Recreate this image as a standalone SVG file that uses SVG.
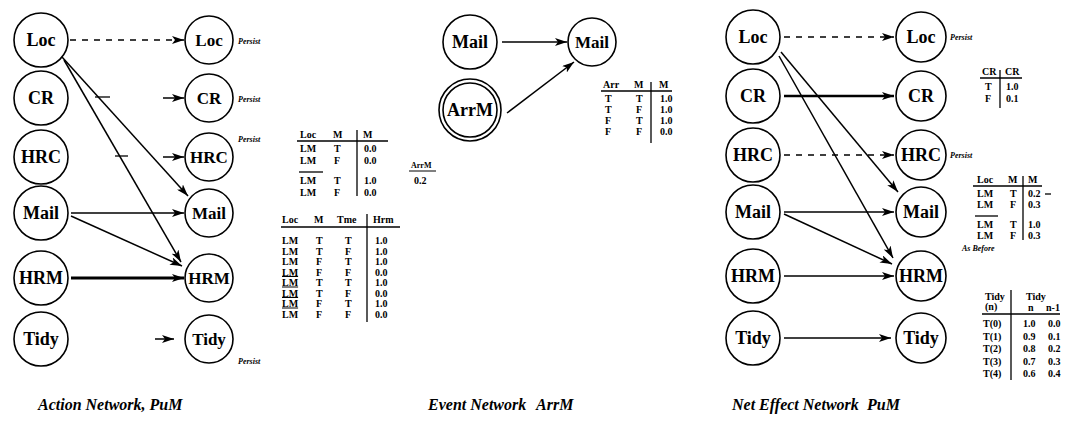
<svg xmlns="http://www.w3.org/2000/svg" width="1074" height="423" viewBox="0 0 1074 423">
<style>
.node circle{fill:#fff;stroke:#000;stroke-width:1.6}
.lbl{font-family:"Liberation Serif",serif;font-weight:bold;font-size:18px;text-anchor:middle;dominant-baseline:central}
.sm{font-size:17px}
.tb{font-family:"Liberation Serif",serif;font-weight:bold;font-size:10px}
.per{font-family:"Liberation Serif",serif;font-weight:bold;font-style:italic;font-size:8px}
.cap{font-family:"Liberation Serif",serif;font-weight:bold;font-style:italic;font-size:16px}
.edge{stroke:#000;stroke-width:1.5;fill:none;marker-end:url(#ah)}
.dash{stroke-dasharray:6 6}
.thick{stroke-width:3}
.rule{stroke:#000;stroke-width:1.3;fill:none}
</style>
<defs>
<marker id="ah" viewBox="0 0 12 8" refX="12" refY="4" markerWidth="12" markerHeight="8" markerUnits="userSpaceOnUse" orient="auto"><path d="M0,0 L12,4 L0,8 L3,4 z" fill="#000"/></marker>
</defs>
<rect width="1074" height="423" fill="#fff"/>

<!-- connectors -->
<g id="connectors">
  <!-- action network -->
  <line class="edge dash" x1="70" y1="40" x2="184" y2="40"/>
  <line class="edge" x1="163" y1="98" x2="184" y2="98"/>
  <line class="edge" x1="163" y1="157" x2="184" y2="157"/>
  <line class="edge" x1="155" y1="339" x2="174" y2="339"/>
  <line class="edge" x1="62" y1="57" x2="188" y2="196"/>
  <line class="edge" x1="64" y1="60" x2="181" y2="262"/>
  <line class="edge" x1="71" y1="213" x2="184" y2="213"/>
  <line class="edge" x1="71" y1="216" x2="182" y2="266"/>
  <line class="edge thick" x1="71" y1="278" x2="184" y2="278"/>
  <line class="rule" x1="95" y1="97" x2="110" y2="97"/>
  <line class="rule" x1="115" y1="156" x2="128" y2="156"/>
  <!-- event network -->
  <line class="edge" x1="502" y1="42" x2="567" y2="42"/>
  <line class="edge" x1="507" y1="113" x2="574" y2="62"/>
  <!-- net effect network -->
  <line class="edge dash" x1="784" y1="37" x2="894" y2="37"/>
  <line class="edge" x1="784" y1="96" x2="894" y2="96" style="stroke-width:2.5"/>
  <line class="edge dash" x1="784" y1="155" x2="894" y2="155"/>
  <line class="edge" x1="781" y1="52" x2="898" y2="192"/>
  <line class="edge" x1="779" y1="56" x2="893" y2="258"/>
  <line class="edge" x1="784" y1="212" x2="894" y2="212"/>
  <line class="edge" x1="784" y1="214" x2="892" y2="264"/>
  <line class="edge" x1="784" y1="276" x2="894" y2="276"/>
  <line class="edge" x1="784" y1="338" x2="891" y2="338"/>
</g>

<!-- Action network nodes -->
<g id="a-loc" class="node"><circle cx="41" cy="40" r="27"/><text class="lbl" x="41" y="40">Loc</text></g>
<g id="a-cr" class="node"><circle cx="41" cy="98" r="27"/><text class="lbl" x="41" y="98">CR</text></g>
<g id="a-hrc" class="node"><circle cx="41" cy="157" r="27"/><text class="lbl" x="41" y="157">HRC</text></g>
<g id="a-mail" class="node"><circle cx="41" cy="213" r="27"/><text class="lbl" x="41" y="213">Mail</text></g>
<g id="a-hrm" class="node"><circle cx="41" cy="278" r="27"/><text class="lbl" x="41" y="278">HRM</text></g>
<g id="a-tidy" class="node"><circle cx="41" cy="339" r="27"/><text class="lbl" x="41" y="339">Tidy</text></g>
<g id="a-loc2" class="node"><circle cx="209" cy="40" r="24"/><text class="lbl sm" x="209" y="40">Loc</text></g>
<g id="a-cr2" class="node"><circle cx="209" cy="98" r="24"/><text class="lbl sm" x="209" y="98">CR</text></g>
<g id="a-hrc2" class="node"><circle cx="209" cy="157" r="24"/><text class="lbl sm" x="209" y="157">HRC</text></g>
<g id="a-mail2" class="node"><circle cx="209" cy="213" r="24"/><text class="lbl sm" x="209" y="213">Mail</text></g>
<g id="a-hrm2" class="node"><circle cx="209" cy="278" r="24"/><text class="lbl sm" x="209" y="278">HRM</text></g>
<g id="a-tidy2" class="node"><circle cx="209" cy="339" r="24"/><text class="lbl sm" x="209" y="339">Tidy</text></g>
<g id="a-persist" class="per">
  <text x="238" y="44">Persist</text>
  <text x="238" y="102">Persist</text>
  <text x="238" y="142">Persist</text>
  <text x="238" y="364">Persist</text>
</g>

<!-- Action tables -->
<g id="a-table1" class="tb">
  <text x="300" y="138">Loc</text><text x="333" y="138">M</text><text x="363" y="138">M</text>
  <line class="rule" x1="297" y1="141" x2="388" y2="141"/>
  <line class="rule" x1="357" y1="130" x2="357" y2="196"/>
  <text x="300" y="152">LM</text><text x="334" y="152">T</text><text x="364" y="152">0.0</text>
  <text x="300" y="164">LM</text><text x="334" y="164">F</text><text x="364" y="164">0.0</text>
  <line class="rule" x1="299" y1="172" x2="323" y2="172"/>
  <text x="300" y="184">LM</text><text x="334" y="184">T</text><text x="364" y="184">1.0</text>
  <text x="300" y="196">LM</text><text x="334" y="196">F</text><text x="364" y="196">0.0</text>
</g>
<g id="a-arrm" class="tb">
  <text x="411" y="168" style="font-size:8px">ArrM</text>
  <line class="rule" x1="409" y1="171" x2="436" y2="171" style="stroke-width:1"/>
  <text x="414" y="184">0.2</text>
</g>
<g id="a-table2" class="tb">
  <text x="282" y="223">Loc</text><text x="314" y="223">M</text><text x="337" y="223">Tme</text><text x="373" y="223">Hrm</text>
  <line class="rule" x1="281" y1="227" x2="400" y2="227"/>
  <line class="rule" x1="367" y1="214" x2="367" y2="322"/>
  <text x="282" y="244">LM</text><text x="316" y="244">T</text><text x="345" y="244">T</text><text x="375" y="244">1.0</text>
  <text x="282" y="254.5">LM</text><text x="316" y="254.5">T</text><text x="345" y="254.5">F</text><text x="375" y="254.5">1.0</text>
  <text x="282" y="265">LM</text><text x="316" y="265">F</text><text x="345" y="265">T</text><text x="375" y="265">1.0</text>
  <text x="282" y="275.5">LM</text><text x="316" y="275.5">F</text><text x="345" y="275.5">F</text><text x="375" y="275.5">0.0</text>
  <text x="282" y="286" text-decoration="overline">LM</text><text x="316" y="286">T</text><text x="345" y="286">T</text><text x="375" y="286">1.0</text>
  <text x="282" y="296.5" text-decoration="overline">LM</text><text x="316" y="296.5">T</text><text x="345" y="296.5">F</text><text x="375" y="296.5">0.0</text>
  <text x="282" y="307" text-decoration="overline">LM</text><text x="316" y="307">F</text><text x="345" y="307">T</text><text x="375" y="307">1.0</text>
  <text x="282" y="317.5" text-decoration="overline">LM</text><text x="316" y="317.5">F</text><text x="345" y="317.5">F</text><text x="375" y="317.5">0.0</text>
</g>

<!-- Event network -->
<g id="e-mail" class="node"><circle cx="470" cy="42" r="27"/><text class="lbl" x="470" y="42">Mail</text></g>
<g id="e-arrm" class="node"><circle cx="470" cy="110" r="31"/><circle cx="470" cy="110" r="27"/><text class="lbl" x="470" y="110">ArrM</text></g>
<g id="e-mail2" class="node"><circle cx="592" cy="42" r="24"/><text class="lbl sm" x="592" y="42">Mail</text></g>
<g id="e-table" class="tb">
  <text x="603" y="88">Arr</text><text x="634" y="88">M</text><text x="659" y="88">M</text>
  <line class="rule" x1="601" y1="91" x2="672" y2="91"/>
  <line class="rule" x1="651" y1="82" x2="651" y2="143"/>
  <text x="605" y="102">T</text><text x="636" y="102">T</text><text x="660" y="102">1.0</text>
  <text x="605" y="113">T</text><text x="636" y="113">F</text><text x="660" y="113">1.0</text>
  <text x="605" y="124">F</text><text x="636" y="124">T</text><text x="660" y="124">1.0</text>
  <text x="605" y="135">F</text><text x="636" y="135">F</text><text x="660" y="135">0.0</text>
</g>

<!-- Net effect network -->
<g id="n-loc" class="node"><circle cx="753" cy="37" r="27"/><text class="lbl" x="753" y="37">Loc</text></g>
<g id="n-cr" class="node"><circle cx="753" cy="96" r="27"/><text class="lbl" x="753" y="96">CR</text></g>
<g id="n-hrc" class="node"><circle cx="753" cy="155" r="27"/><text class="lbl" x="753" y="155">HRC</text></g>
<g id="n-mail" class="node"><circle cx="753" cy="212" r="27"/><text class="lbl" x="753" y="212">Mail</text></g>
<g id="n-hrm" class="node"><circle cx="753" cy="276" r="27"/><text class="lbl" x="753" y="276">HRM</text></g>
<g id="n-tidy" class="node"><circle cx="753" cy="338" r="27"/><text class="lbl" x="753" y="338">Tidy</text></g>
<g id="n-loc2" class="node"><circle cx="921" cy="37" r="25"/><text class="lbl" x="921" y="37">Loc</text></g>
<g id="n-cr2" class="node"><circle cx="921" cy="96" r="25"/><text class="lbl" x="921" y="96">CR</text></g>
<g id="n-hrc2" class="node"><circle cx="921" cy="155" r="25"/><text class="lbl" x="921" y="155">HRC</text></g>
<g id="n-mail2" class="node"><circle cx="921" cy="212" r="25"/><text class="lbl" x="921" y="212">Mail</text></g>
<g id="n-hrm2" class="node"><circle cx="921" cy="276" r="25"/><text class="lbl" x="921" y="276">HRM</text></g>
<g id="n-tidy2" class="node"><circle cx="921" cy="338" r="25"/><text class="lbl" x="921" y="338">Tidy</text></g>
<g id="n-notes" class="per">
  <text x="950" y="40">Persist</text>
  <text x="950" y="158">Persist</text>
  <text x="962" y="251">As Before</text>
</g>
<g id="n-table-cr" class="tb">
  <text x="982" y="75">CR</text><text x="1005" y="75">CR</text>
  <line class="rule" x1="980" y1="78" x2="1022" y2="78"/>
  <line class="rule" x1="1000" y1="70" x2="1000" y2="108"/>
  <text x="985" y="90">T</text><text x="1006" y="90">1.0</text>
  <text x="985" y="102">F</text><text x="1006" y="102">0.1</text>
</g>
<g id="n-table-mail" class="tb">
  <text x="977" y="183">Loc</text><text x="1008" y="183">M</text><text x="1028" y="183">M</text>
  <line class="rule" x1="973" y1="186" x2="1042" y2="186"/>
  <line class="rule" x1="1023" y1="176" x2="1023" y2="240"/>
  <text x="977" y="197">LM</text><text x="1010" y="197">T</text><text x="1028" y="197">0.2</text>
  <line class="rule" x1="1045" y1="194" x2="1051" y2="194"/>
  <text x="977" y="208">LM</text><text x="1010" y="208">F</text><text x="1028" y="208">0.3</text>
  <line class="rule" x1="975" y1="216" x2="998" y2="216"/>
  <text x="977" y="228">LM</text><text x="1010" y="228">T</text><text x="1028" y="228">1.0</text>
  <text x="977" y="239">LM</text><text x="1010" y="239">F</text><text x="1028" y="239">0.3</text>
</g>
<g id="n-table-tidy" class="tb">
  <text x="985" y="300">Tidy</text><text x="985" y="310">(n)</text>
  <text x="1026" y="300">Tidy</text><text x="1028" y="311">n</text><text x="1046" y="311">n-1</text>
  <line class="rule" x1="982" y1="314" x2="1060" y2="314"/>
  <line class="rule" x1="1011" y1="290" x2="1011" y2="380"/>
  <text x="983" y="327">T(0)</text><text x="1023" y="327">1.0</text><text x="1048" y="327">0.0</text>
  <text x="983" y="339.5">T(1)</text><text x="1023" y="339.5">0.9</text><text x="1048" y="339.5">0.1</text>
  <text x="983" y="352">T(2)</text><text x="1023" y="352">0.8</text><text x="1048" y="352">0.2</text>
  <text x="983" y="364.5">T(3)</text><text x="1023" y="364.5">0.7</text><text x="1048" y="364.5">0.3</text>
  <text x="983" y="377">T(4)</text><text x="1023" y="377">0.6</text><text x="1048" y="377">0.4</text>
</g>

<!-- captions -->
<g id="captions" class="cap">
  <text x="38" y="410">Action Network, PuM</text>
  <text x="428" y="410">Event Network<tspan x="536">ArrM</tspan></text>
  <text x="732" y="410">Net Effect Network<tspan x="867">PuM</tspan></text>
</g>
</svg>
